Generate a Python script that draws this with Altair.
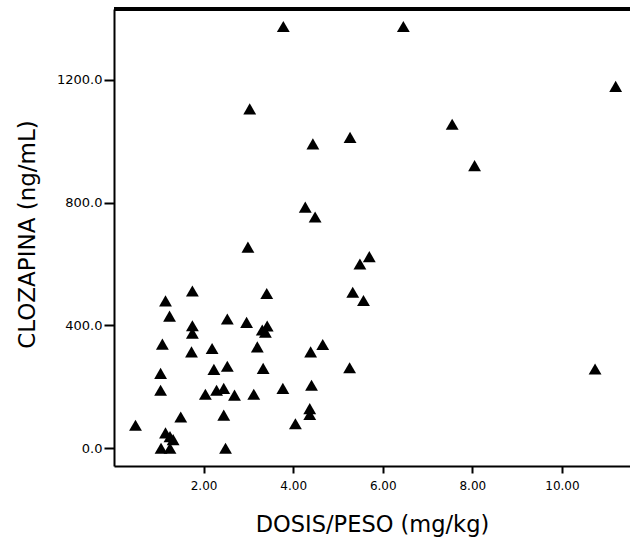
import altair as alt
import pandas as pd

# DOSIS/PESO (mg/kg)
dosis = [3.78, 6.46, 11.20, 3.03, 7.55, 5.27, 4.44, 8.05, 4.27, 4.49,
         2.99, 5.70, 5.49, 5.33, 5.57, 3.41, 1.75, 1.15, 1.24, 2.53,
         2.96, 3.31, 3.42, 3.38, 1.75, 1.75, 1.08, 1.73, 2.19, 3.20,
         4.66, 4.39, 2.23, 2.53, 3.33, 5.26, 10.74, 1.04, 1.04, 2.04,
         2.29, 2.45, 2.69, 3.12, 3.77, 4.41, 4.37, 4.37, 4.05, 1.49,
         2.45, 0.48, 1.15, 1.25, 1.32, 1.05, 1.25, 2.49]
# CLOZAPINA (ng/mL)
cloza = [1373, 1373, 1178, 1105, 1055, 1012, 991, 920, 785, 753,
         655, 624, 600, 508, 481, 504, 512, 480, 430, 421,
         410, 385, 398, 378, 399, 375, 339, 314, 325, 330,
         338, 314, 257, 267, 260, 262, 258, 244, 189, 176,
         189, 195, 173, 176, 195, 205, 129, 110, 80, 102,
         108, 75, 50, 38, 28, 0, 0, 0]

x_ticks = [2, 4, 6, 8, 10]
y_ticks = [0, 400, 800, 1200]

df = pd.DataFrame({"dosis": dosis, "cloza": cloza})

W, H = 516, 457

points = alt.Chart(df).mark_point(
    shape="triangle-up", filled=True, color="black", size=165, opacity=1
).encode(
    x=alt.X("dosis:Q",
            scale=alt.Scale(domain=[0, 11.52], nice=False, zero=False),
            axis=alt.Axis(values=x_ticks, format=".2f", title="DOSIS/PESO (mg/kg)",
                          grid=False, domainColor="black", domainWidth=2,
                          tickColor="black", tickWidth=2, tickSize=7,
                          labelFont="DejaVu Sans", labelFontSize=12, labelColor="black",
                          labelPadding=7,
                          titleFont="DejaVu Sans", titleFontSize=22.5, titleFontWeight="normal",
                          titleColor="black", titlePadding=22)),
    y=alt.Y("cloza:Q",
            scale=alt.Scale(domain=[-57.7, 1430], nice=False, zero=False),
            axis=alt.Axis(values=y_ticks, format=".1f", title="CLOZAPINA (ng/mL)",
                          grid=False, domainColor="black", domainWidth=2,
                          tickColor="black", tickWidth=2, tickSize=10,
                          labelFont="DejaVu Sans", labelFontSize=13, labelColor="black",
                          labelPadding=2,
                          titleFont="DejaVu Sans", titleFontSize=23, titleFontWeight="normal",
                          titleColor="black", titlePadding=17, titleY=225)),
)

top_line = alt.Chart(df).mark_rule(color="black", strokeWidth=3).encode(
    x=alt.value(0), x2=alt.value(W), y=alt.value(0)
)

chart = alt.layer(points, top_line).properties(
    width=W, height=H,
    autosize=alt.AutoSizeParams(type="none"),
    padding={"left": 114, "top": 9, "right": 0, "bottom": 76},
    background="white",
).configure_view(stroke=None)

chart.save("out.html", embed_options={"renderer": "svg", "actions": False})
